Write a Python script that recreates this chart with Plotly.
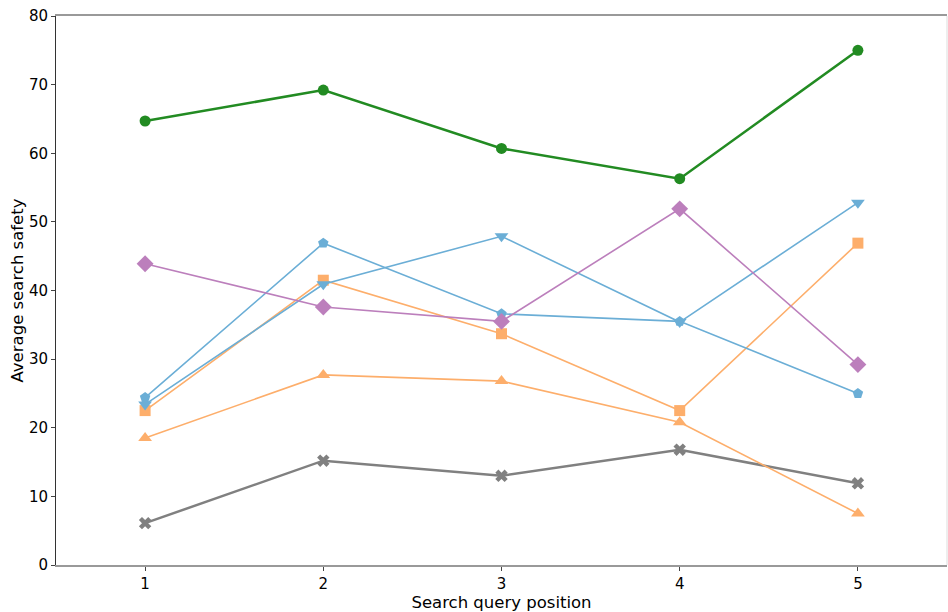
import plotly.graph_objects as go

positions = [1, 2, 3, 4, 5]

green_circle = [64.7, 69.2, 60.7, 56.3, 75.0]
purple_diamond = [43.9, 37.6, 35.5, 51.9, 29.2]
blue_pentagon = [24.4, 46.9, 36.6, 35.5, 25.0]
blue_tri_down = [23.4, 40.9, 47.9, 35.4, 52.8]
orange_square = [22.5, 41.5, 33.7, 22.5, 46.9]
orange_tri_up = [18.5, 27.7, 26.8, 20.8, 7.5]
grey_x = [6.1, 15.2, 13.0, 16.8, 11.9]

y_ticks = [0, 10, 20, 30, 40, 50, 60, 70, 80]

series = [
    (grey_x, "#808080", "x", 2.5, 11),
    (orange_tri_up, "#fdae6b", "triangle-up", 1.6, 12),
    (orange_square, "#fdae6b", "square", 1.6, 11),
    (blue_tri_down, "#6baed6", "triangle-down", 1.6, 12),
    (blue_pentagon, "#6baed6", "pentagon", 1.6, 11),
    (purple_diamond, "#bc7fbc", "diamond", 1.6, 13),
    (green_circle, "#228b22", "circle", 2.5, 11),
]

fig = go.Figure()
for ys, color, sym, lw, ms in series:
    fig.add_trace(go.Scatter(
        x=positions, y=ys, mode="lines+markers",
        line=dict(color=color, width=lw),
        marker=dict(symbol=sym, size=ms, color=color, line=dict(width=0)),
        showlegend=False,
    ))

font = "DejaVu Sans, Liberation Sans, sans-serif"
fig.update_layout(
    width=948, height=612,
    margin=dict(l=56, r=1, t=16, b=47),
    plot_bgcolor="white", paper_bgcolor="white",
    font=dict(family=font, size=15, color="#000"),
    xaxis=dict(
        range=[0.5, 5.5], tickvals=positions, ticktext=[str(p) for p in positions],
        showgrid=False, zeroline=False,
        showline=True, linecolor="#999999", linewidth=2, mirror=True,
        ticks="outside", ticklen=4, tickcolor="#444", tickwidth=1,
        title=dict(text="Search query position", font=dict(size=16.5), standoff=3),
    ),
    yaxis=dict(
        range=[0, 80], tickvals=y_ticks, ticktext=[str(t) for t in y_ticks],
        showgrid=False, zeroline=False,
        showline=True, linecolor="#333333", linewidth=1,
        ticks="outside", ticklen=4, tickcolor="#444", tickwidth=1,
        title=dict(text="Average search safety", font=dict(size=16.5), standoff=1),
    ),
)
fig.add_shape(type="line", xref="paper", yref="paper", x0=1, x1=1, y0=0, y1=1,
              line=dict(color="#dddddd", width=1))

fig.write_html("out.html")
